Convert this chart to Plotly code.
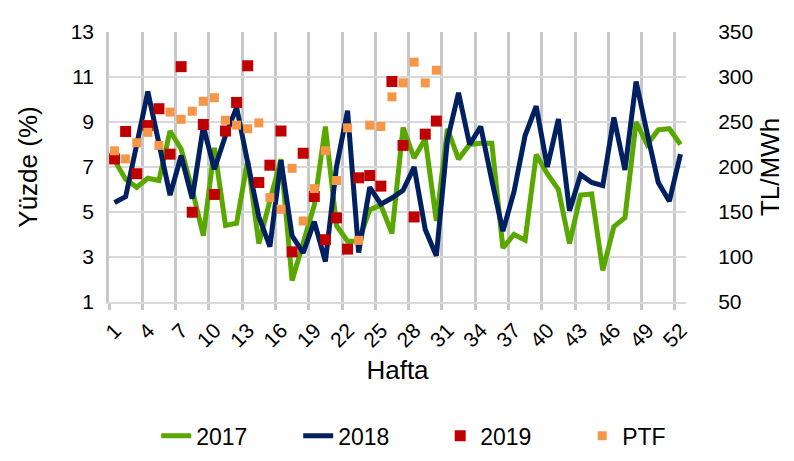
import plotly.graph_objects as go

weeks = list(range(1, 53))
tick_weeks = list(range(1, 53, 3))
tick_labels = [str(w) for w in tick_weeks]
grid_bounds = [w - 0.5 for w in tick_weeks]

y2017 = [7.3, 6.45, 6.1, 6.5, 6.4, 8.6, 7.8, 6.0, 3.95, 7.85,
         4.4, 4.5, 7.3, 3.6, 5.5, 7.35, 1.95, 3.6, 5.3, 8.8,
         4.4, 3.7, 3.7, 5.1, 5.3, 4.05, 8.75, 7.4, 8.25, 4.6,
         8.7, 7.35, 8.0, 8.05, 8.05, 3.4, 4.0, 3.75, 7.55, 6.7,
         6.0, 3.6, 5.75, 5.8, 2.4, 4.35, 4.75, 9.0, 8.0, 8.65,
         8.7, 8.0]

y2018 = [5.42, 5.68, 8.0, 10.35, 8.05, 5.75, 7.5, 5.6, 8.8, 6.9,
         8.4, 9.65, 7.2, 4.8, 3.46, 7.3, 3.94, 3.18, 4.57, 2.8,
         7.0, 9.5, 3.2, 6.1, 5.35, 5.62, 5.96, 7.0, 4.22, 3.05,
         8.2, 10.3, 8.0, 8.8, 6.4, 4.15, 5.9, 8.4, 9.7, 7.0,
         9.13, 5.06, 6.66, 6.31, 6.17, 9.2, 6.87, 10.8, 8.5, 6.31,
         5.48, 7.57]

y2019 = [7.36, 8.58, 6.7, 8.84, 9.59, 7.57, 11.46, 4.99, 8.89, 5.78,
         8.6, 9.87, 11.5, 6.31, 7.08, 8.6, 3.23, 7.61, 5.69, 3.77,
         4.74, 3.35, 6.52, 6.62, 6.15, 10.8, 7.96, 4.78, 8.46, 9.04]

ptf = [218, 209, 227, 238.5, 224, 261, 253, 262, 273, 277,
       252, 246.5, 242.5, 249, 166, 153, 198.5, 140, 176, 218,
       185, 243.5, 118.5, 246.5, 245, 278, 293.5, 316.5, 293.5, 307.5]

FONT = "Liberation Sans, Arial, sans-serif"
GRID = "#D9D9D9"
VGRID = "#C8C8C8"

fig = go.Figure()
fig.add_trace(go.Scatter(x=weeks, y=y2017, name="2017", mode="lines",
                         line=dict(color="#58A800", width=5)))
fig.add_trace(go.Scatter(x=weeks, y=y2018, name="2018", mode="lines",
                         line=dict(color="#002060", width=5)))
fig.add_trace(go.Scatter(x=weeks[:len(y2019)], y=y2019, name="2019", mode="markers",
                         marker=dict(symbol="square", size=11, color="#C00000")))
fig.add_trace(go.Scatter(x=weeks[:len(ptf)], y=ptf, name="PTF", mode="markers",
                         marker=dict(symbol="square", size=9, color="#F79646"),
                         yaxis="y2"))

fig.update_layout(
    width=794, height=461,
    margin=dict(l=101, r=116, t=13, b=160),
    paper_bgcolor="white", plot_bgcolor="white",
    font=dict(family=FONT, color="#000000", size=21),
    showlegend=True,
    legend=dict(orientation="h", x=0.574, xanchor="center", y=-0.496, yanchor="middle",
                font=dict(size=23), entrywidth=97, entrywidthmode="pixels",
                traceorder="normal"),
    xaxis=dict(range=[0.5, 52.5], tickmode="array", tickvals=grid_bounds,
               ticktext=tick_labels, tickangle=-45, ticklabelshift=6,
               showgrid=True, gridcolor=VGRID, gridwidth=2.5, zeroline=False,
               showline=True, linecolor=GRID, linewidth=2,
               ticks="outside", ticklen=6, tickcolor=VGRID, tickwidth=2.5,
               tickfont=dict(size=21),
               title=dict(text="Hafta", font=dict(size=26), standoff=10)),
    yaxis=dict(range=[1, 13], tick0=1, dtick=2, showgrid=True, gridcolor=GRID,
               gridwidth=2, zeroline=False,
               showline=True, linecolor=VGRID, linewidth=2.5,
               ticks="outside", ticklen=8, tickcolor="rgba(0,0,0,0)",
               tickfont=dict(size=21),
               title=dict(text="Yüzde (%)", font=dict(size=26), standoff=26)),
    yaxis2=dict(range=[50, 350], tick0=50, dtick=50, overlaying="y", side="right",
                showgrid=False, zeroline=False, showline=False,
                ticks="outside", ticklen=27, tickcolor="rgba(0,0,0,0)",
                tickfont=dict(size=21),
                title=dict(text="TL/MWh", font=dict(size=26), standoff=8)),
)

fig.write_html("out.html")
